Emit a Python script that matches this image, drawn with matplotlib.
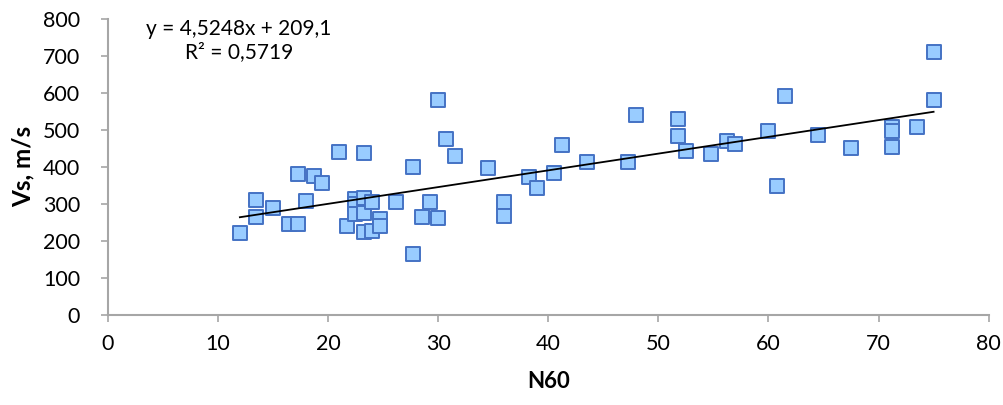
import matplotlib
matplotlib.use("Agg")
import matplotlib.pyplot as plt
import numpy as np

n60 = [12.0, 13.5, 13.5, 15.0, 16.5, 17.25, 17.25, 18.0, 18.75, 19.5,
       21.0, 21.7, 22.5, 22.5, 22.5, 23.25, 23.25, 23.25, 23.25, 24.0,
       24.0, 24.7, 24.7, 26.2, 27.75, 27.75, 28.5, 29.25, 30.0, 30.0,
       30.75, 31.5, 34.5, 36.0, 36.0, 38.25, 39.0, 40.5, 41.25, 43.5,
       47.25, 48.0, 51.75, 51.75, 52.5, 54.75, 56.25, 57.0, 60.0, 60.75,
       61.5, 64.5, 67.5, 71.25, 71.25, 71.25, 73.5, 75.0, 75.0]
vs = [220, 309, 263, 289, 246, 246, 381, 308, 375, 356,
      440, 241, 313, 300, 273, 316, 274, 223, 437, 304,
      226, 259, 239, 304, 400, 163, 264, 305, 260, 580,
      474, 428, 397, 305, 268, 371, 342, 384, 459, 413,
      412, 540, 528, 482, 443, 433, 470, 461, 497, 348,
      591, 485, 451, 507, 497, 454, 508, 711, 580]

slope = 4.5248
intercept = 209.1
eq_text = "y = 4,5248x + 209,1\nR² = 0,5719"
x_ticks = [0, 10, 20, 30, 40, 50, 60, 70, 80]
y_ticks = [0, 100, 200, 300, 400, 500, 600, 700, 800]

plt.rcParams['font.family'] = ['Lato', 'DejaVu Sans']

fig = plt.figure(figsize=(10.04, 4.05), dpi=100)
ax = fig.add_axes([0.1073, 0.2230, 0.8774, 0.7308])

ax.scatter(n60, vs, marker='s', s=100, facecolor='#99CCFF', edgecolor='#4472C4',
           linewidths=1.4, zorder=3)

xl = np.array([min(n60), max(n60)])
ax.plot(xl, slope * xl + intercept, color='black', lw=1.3, zorder=4)

ax.text(11.9, 740, eq_text, ha='center', va='center', fontsize=15,
        multialignment='center', linespacing=1.2)

ax.set_xlim(0, 80)
ax.set_ylim(0, 800)
ax.set_xticks(x_ticks)
ax.set_yticks(y_ticks)
ax.tick_params(axis='both', labelsize=15.5, color='#A6A6A6', width=1.2, length=5,
               direction='out')
ax.tick_params(axis='x', pad=9)
ax.tick_params(axis='y', pad=15)
for s in ['top', 'right']:
    ax.spines[s].set_visible(False)
for s in ['left', 'bottom']:
    ax.spines[s].set_color('#A6A6A6')
    ax.spines[s].set_linewidth(1.5)

ax.set_xlabel('N60', fontsize=16, fontweight='bold', labelpad=12)
ax.set_ylabel('Vs, m/s', fontsize=17.5, fontweight='bold', labelpad=6)

fig.savefig('out.png', dpi=100)
